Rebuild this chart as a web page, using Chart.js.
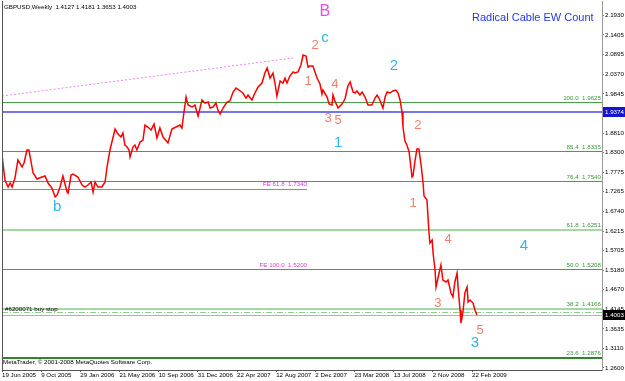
<!DOCTYPE html>
<html>
<head>
<meta charset="utf-8">
<script src="https://cdn.jsdelivr.net/npm/chart.js@4.4.1/dist/chart.umd.min.js"></script>
<style>
html, body { margin: 0; padding: 0; background: #fff; }
</style>
</head>
<body>
<canvas id="grafico" width="625" height="381"></canvas>
<script>
// GBPUSD weekly closes, x = weeks since 19 Jun 2005
var weeks = [0,1.2,2.5,3.3,4.1,5.3,6.5,8.2,9.0,10.2,11.0,12.7,14.3,16.3,17.6,18.8,20.4,21.7,22.5,23.7,24.9,26.6,27.0,28.2,29.0,31.0,32.7,33.9,35.1,36.4,37.2,38.0,39.2,40.8,42.1,42.9,44.1,45.3,46.2,47.4,48.6,49.4,50.2,51.1,51.9,52.3,53.5,54.3,55.1,56.4,57.6,58.4,59.6,60.9,62.1,63.3,64.5,65.8,67.8,69.4,71.1,72.7,73.5,73.9,75.2,76.0,77.6,78.8,80.1,81.7,82.9,84.2,85.0,86.2,87.4,88.2,89.1,90.3,91.9,93.1,94.4,95.6,96.8,98.4,99.7,100.5,102.1,103.3,104.6,106.2,107.4,108.3,109.5,110.7,111.5,112.3,113.6,114.8,115.6,116.4,117.6,118.9,119.7,120.9,122.1,123.0,124.2,125.0,125.8,127.0,128.7,129.9,130.7,131.1,132.8,133.6,134.8,135.2,136.0,137.3,138.9,140.1,141.3,142.2,143.4,144.2,145.0,146.2,147.1,148.3,149.5,151.1,152.4,153.2,154.0,155.6,156.5,157.3,158.5,159.7,160.9,161.8,162.6,163.4,163.8,164.6,165.4,166.3,167.5,167.9,168.7,169.5,170.3,171.2,172.0,172.4,173.6,174.4,174.8,175.7,176.1,176.9,177.3,178.1,179.3,180.1,181.4,182.2,183.4,184.2,185.0,185.9,186.3,187.1,187.5,188.3,189.1,190.0,190.4,191.2,192.4,193.2,194.0];
var closes = [1.8230,1.7569,1.7384,1.7490,1.7384,1.7622,1.8098,1.7913,1.8018,1.8362,1.8362,1.7754,1.7595,1.7648,1.7675,1.7490,1.7357,1.7120,1.7172,1.7384,1.7675,1.7252,1.7225,1.7701,1.7727,1.7648,1.7437,1.7384,1.7437,1.7516,1.7252,1.7516,1.7384,1.7384,1.7516,1.7913,1.8362,1.8679,1.8917,1.8785,1.8705,1.8811,1.8494,1.8441,1.8362,1.8177,1.8441,1.8494,1.8362,1.8573,1.8626,1.9023,1.8970,1.8891,1.9049,1.8679,1.8943,1.8705,1.8547,1.8917,1.8970,1.9023,1.8943,1.9155,1.9763,1.9551,1.9499,1.9551,1.9261,1.9684,1.9604,1.9631,1.9472,1.9499,1.9604,1.9419,1.9313,1.9472,1.9631,1.9657,1.9895,2.0001,1.9948,1.9869,1.9736,1.9816,1.9684,1.9869,2.0027,2.0133,2.0397,2.0530,2.0265,2.0397,2.0133,1.9789,2.0186,2.0133,2.0265,2.0133,2.0318,2.0424,2.0397,2.0424,2.0609,2.0873,2.0847,2.0556,2.0582,2.0582,2.0265,2.0107,1.9842,1.9948,1.9763,1.9578,1.9551,1.9816,1.9657,1.9472,1.9578,1.9710,2.0054,2.0159,1.9895,1.9869,1.9922,1.9816,1.9895,1.9763,1.9551,1.9551,1.9736,1.9816,1.9736,1.9472,1.9763,1.9895,1.9869,1.9922,1.9948,1.9869,1.9684,1.9366,1.8970,1.8600,1.8494,1.8309,1.7648,1.7675,1.8071,1.8388,1.8388,1.7965,1.7490,1.7146,1.7040,1.6194,1.5903,1.5983,1.5639,1.5190,1.4740,1.4978,1.5322,1.4925,1.4873,1.4925,1.4582,1.4476,1.4873,1.5110,1.4740,1.4132,1.3789,1.4080,1.4582,1.4740,1.4344,1.4397,1.4317,1.4132,1.4000];

var dateLabels = ['19 Jun 2005','9 Oct 2005','29 Jan 2006','21 May 2006','10 Sep 2006','31 Dec 2006','22 Apr 2007','12 Aug 2007','2 Dec 2007','23 Mar 2008','13 Jul 2008','2 Nov 2008','22 Feb 2009'];
var priceTicks = [2.1930,2.1405,2.0895,2.0370,1.9845,1.8810,1.8300,1.7775,1.7265,1.6740,1.6215,1.5705,1.5180,1.4670,1.4145,1.3635,1.3110,1.2600];
var ohlc = [1.4127, 1.4181, 1.3653, 1.4003];

// fibonacci retracement and expansion levels
var fibNames = ['100.0','85.4','76.4','61.8','50.0','38.2','23.6'];
var fibLevels = [1.9625,1.8335,1.7540,1.6251,1.5208,1.4166,1.2876];
var feNames = ['FE 61.8','FE 100.0'];
var feLevels = [1.7340,1.5200];
var feEndWeek = 124.6;
var trendWeeks = [0, 118.9];
var trendPrices = [1.9789, 2.0794];
var levelLine = 1.9374;
var buyStop = 1.4072;
var buyStopName = '#6200071 buy stop';

// elliott wave count labels
var waveNames  = ['B','c','2','1','4','3','5','2','2','1','1','4','4','3','5','3','b'];
var waveDegree = ['P','I','m','m','m','m','m','I','m','I','m','m','I','m','m','I','I'];
var waveWeeks  = [131.9,131.9,127.9,125.0,136.0,133.2,137.3,160.1,169.9,137.3,167.9,182.2,213.2,178.1,195.3,193.2,22.5];
var wavePrices = [2.2010,2.1323,2.1137,2.0186,2.0107,1.9208,1.9155,2.0582,1.9023,1.8547,1.6961,1.6009,1.5824,1.4317,1.3604,1.3260,1.6855];

var fnt = "'Liberation Sans', Arial, sans-serif";
var small = 6.2;
var waveStyle = {
  P: { color: '#e84ce8', size: 16 },
  I: { color: '#2fb4ee', size: 15 },
  m: { color: '#f47f6e', size: 13 }
};

var puntos = weeks.map(function (w, i) { return { x: w, y: closes[i] }; });
var tendencia = trendWeeks.map(function (w, i) { return { x: w, y: trendPrices[i] }; });

var capas = {
  id: 'capas',
  beforeDatasetsDraw: function (chart) {
    var ctx = chart.ctx, a = chart.chartArea, xs = chart.scales.x, ys = chart.scales.y;
    function rowOf(v) {
      var y = Math.round(ys.getPixelForValue(v));
      // a level that falls on a retracement line shares its row
      fibLevels.forEach(function (f) {
        var fy = Math.round(ys.getPixelForValue(f));
        if (Math.abs(fy - y) <= 1) y = fy;
      });
      return y;
    }
    function hline(y, x0, x1, color, w, dash) {
      y = y + (w % 2 ? 0.5 : 0);
      ctx.beginPath();
      ctx.setLineDash(dash || []);
      ctx.strokeStyle = color;
      ctx.lineWidth = w;
      ctx.moveTo(x0, y);
      ctx.lineTo(x1, y);
      ctx.stroke();
    }
    ctx.save();
    var feX = xs.getPixelForValue(feEndWeek);
    feLevels.forEach(function (v) { hline(rowOf(v), a.left, feX, '#e64fe6', 1); });
    fibLevels.forEach(function (v, i) {
      var y = Math.round(ys.getPixelForValue(v));
      var light = fibNames[i] === '61.8' || fibNames[i] === '38.2';
      var dark = fibNames[i] === '23.6';
      if (light) hline(y, a.left, a.right, '#a6d8a6', 2);
      else if (dark) hline(y, a.left, a.right, '#2f852f', 2);
      else hline(y, a.left, a.right, '#47a047', 1);
    });
    hline(Math.round(ys.getPixelForValue(levelLine)), a.left, a.right, '#7474ee', 2);
    hline(Math.round(ys.getPixelForValue(buyStop)), a.left, a.right, '#8ccc8c', 1, [6, 2, 1, 2]);
    hline(Math.round(ys.getPixelForValue(ohlc[3])), a.left, a.right, '#aeb0c4', 1);

    ctx.setLineDash([]);
    ctx.font = small + 'px ' + fnt;
    ctx.textBaseline = 'bottom';
    ctx.textAlign = 'right';
    ctx.fillStyle = '#3a9a3a';
    fibLevels.forEach(function (v, i) {
      ctx.fillText(fibNames[i] + '  ' + v.toFixed(4), a.right - 1, ys.getPixelForValue(v) - 1);
    });
    ctx.fillStyle = '#d63cd6';
    feLevels.forEach(function (v, i) {
      ctx.fillText(feNames[i] + '  ' + v.toFixed(4), feX, ys.getPixelForValue(v) - 1);
    });
    ctx.textAlign = 'left';
    ctx.fillStyle = '#000';
    ctx.fillText(buyStopName, a.left + 3, ys.getPixelForValue(buyStop));
    ctx.restore();
  },
  afterDraw: function (chart) {
    var ctx = chart.ctx, a = chart.chartArea, xs = chart.scales.x, ys = chart.scales.y;
    ctx.save();
    // frame
    ctx.strokeStyle = '#555';
    ctx.lineWidth = 1;
    ctx.beginPath();
    ctx.moveTo(a.left + 0.5, a.top);
    ctx.lineTo(a.left + 0.5, a.bottom);
    ctx.stroke();

    // header and copyright
    ctx.font = small + 'px ' + fnt;
    ctx.textAlign = 'left';
    ctx.textBaseline = 'middle';
    ctx.fillStyle = '#000';
    ctx.fillText('GBPUSD,Weekly  ' + ohlc.map(function (v) { return v.toFixed(4); }).join(' '), 4, 7);
    ctx.fillText('MetaTrader, \u00a9 2001-2008 MetaQuotes Software Corp.', 3, 362);

    // price tags on the axis
    function tag(v, bg) {
      var y = Math.round(ys.getPixelForValue(v));
      ctx.fillStyle = bg;
      ctx.fillRect(a.right + 1, y - 5, 22, 10);
      ctx.fillStyle = '#fff';
      ctx.fillText(v.toFixed(4), a.right + 3, y);
    }
    tag(levelLine, '#1414d2');
    tag(ohlc[3], '#000');

    // title
    ctx.font = '11px ' + fnt;
    ctx.fillStyle = '#2336f0';
    ctx.fillText('Radical Cable EW Count', 472, 18);

    // wave labels
    ctx.textAlign = 'center';
    waveNames.forEach(function (t, i) {
      var st = waveStyle[waveDegree[i]];
      ctx.font = st.size + 'px ' + fnt;
      ctx.fillStyle = st.color;
      ctx.fillText(t, xs.getPixelForValue(waveWeeks[i]), ys.getPixelForValue(wavePrices[i]));
    });
    ctx.restore();
  }
};

var ctx = document.getElementById('grafico').getContext('2d');
var grafico = new Chart(ctx, {
  type: 'line',
  data: {
    datasets: [{
      label: 'GBPUSD',
      data: puntos,
      borderColor: '#ff0000',
      borderWidth: 1.5,
      pointRadius: 0,
      tension: 0,
      order: 1
    }, {
      label: 'trend',
      data: tendencia,
      borderColor: '#ee82ee',
      borderWidth: 1,
      borderDash: [2, 2],
      pointRadius: 0,
      order: 2
    }]
  },
  options: {
    responsive: false,
    animation: false,
    devicePixelRatio: 1,
    layout: { padding: { left: 2, top: 1, right: 0, bottom: 0 } },
    plugins: { legend: { display: false }, tooltip: { enabled: false } },
    scales: {
      x: {
        type: 'linear',
        min: 0,
        max: 245.1,
        afterBuildTicks: function (s) { s.ticks = dateLabels.map(function (d, i) { return { value: i * 16 }; }); },
        afterFit: function (s) { s.height = 11; s.paddingLeft = 0; s.paddingRight = 0; },
        grid: { drawOnChartArea: false, tickLength: 2, color: '#555' },
        border: { color: '#555' },
        ticks: {
          autoSkip: false, maxRotation: 0, align: 'start', padding: 0, color: '#000',
          font: { family: fnt, size: small },
          callback: function (v) { return dateLabels[Math.round(v / 16)]; }
        }
      },
      y: {
        position: 'right',
        min: 1.2547,
        max: 2.2301,
        afterBuildTicks: function (s) { s.ticks = priceTicks.map(function (v) { return { value: v }; }); },
        afterFit: function (s) { s.width = 23; s.paddingTop = 0; s.paddingBottom = 0; },
        grid: { drawOnChartArea: false, tickLength: 2, color: '#777' },
        border: { color: '#999' },
        ticks: {
          padding: 1, color: '#000',
          font: { family: fnt, size: small },
          callback: function (v) { return v.toFixed(4); }
        }
      }
    }
  },
  plugins: [capas]
});
</script>
</body>
</html>
